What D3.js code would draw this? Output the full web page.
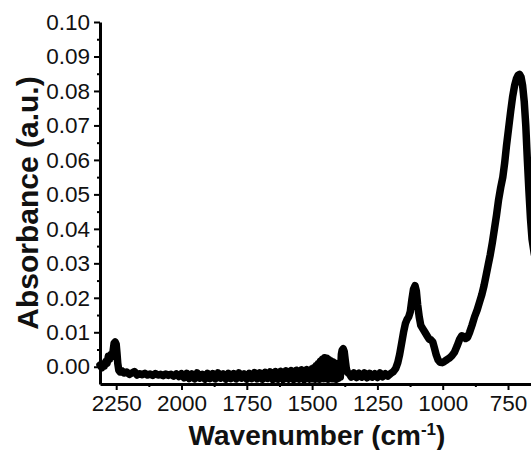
<!DOCTYPE html>
<html>
<head>
<meta charset="utf-8">
<script src="https://cdn.jsdelivr.net/npm/d3@7/dist/d3.min.js"></script>
<style>
  html, body { margin: 0; padding: 0; background: #fff; }
  svg { display: block; }
  .tick text { font-family: "Liberation Sans", Arial, sans-serif; }
</style>
</head>
<body>
<svg id="chart" width="531" height="450"></svg>
<script>
// FTIR spectrum: wavenumber (cm-1) and absorbance (a.u.)
const wavenumber = [
  2312, 2305, 2300, 2295, 2290, 2285, 2280, 2275, 2270, 2265, 2262, 2258, 2254, 2250, 2247, 2244, 2240, 2235,
  2228, 2220, 2210, 2200, 2190, 2180, 2170, 2160, 2150, 2140, 2130, 2120, 2110, 2100, 2090, 2080, 2070, 2060,
  2050, 2040, 2030, 2020, 2010,
  2000, 1990, 1980, 1970, 1960, 1950, 1940, 1930, 1920, 1910, 1900, 1890, 1880, 1870, 1860, 1850, 1840, 1830,
  1820, 1810, 1800, 1790, 1780, 1770, 1760, 1750, 1740, 1730, 1720, 1710, 1700, 1690, 1680, 1670, 1660, 1650,
  1640, 1630, 1620, 1610, 1600, 1590, 1580, 1570, 1560, 1550, 1540, 1530, 1520, 1510, 1500,
  1496, 1492, 1488, 1484, 1480, 1476, 1472, 1468, 1464, 1460, 1456, 1452, 1448, 1444, 1440, 1436, 1432, 1428,
  1424, 1420, 1416, 1412, 1408, 1404, 1400, 1396, 1392, 1388, 1385, 1381, 1377, 1373, 1369, 1365, 1358,
  1350, 1340, 1330, 1320, 1310, 1300, 1290, 1280, 1270, 1260, 1250, 1240, 1230, 1220, 1210,
  1200, 1190, 1180, 1172, 1165, 1158, 1150, 1143, 1136, 1130, 1124, 1118, 1112, 1106, 1101, 1096, 1090, 1084,
  1076, 1068, 1060, 1052, 1045, 1038, 1032, 1025, 1018, 1010, 1002, 994, 985, 975, 965, 955, 945, 935,
  927, 920, 912, 905, 897, 888, 878, 868, 858, 850, 842, 834, 826, 818, 810, 802, 794, 786,
  778, 770, 763, 756, 748, 740, 732, 725, 718, 712, 706, 700, 694, 688, 682, 676, 670, 664, 658, 650, 640
];
const absorbance = [
  0.0005, -0.0003, 0.0008, 0.0002, 0.0015, 0.0010, 0.0030, 0.0022, 0.0035, 0.0030, 0.0045, 0.0068, 0.0072, 0.0065, 0.0040, 0.0010, -0.0010, -0.0015,
  -0.0012, -0.0018, -0.0015, -0.0022, -0.0018, -0.0014, -0.0024, -0.0020, -0.0023, -0.0019, -0.0024, -0.0021, -0.0025, -0.0020, -0.0024, -0.0022, -0.0026, -0.0021,
  -0.0025, -0.0022, -0.0027, -0.0021, -0.0028,
  -0.0020, -0.0032, -0.0019, -0.0034, -0.0021, -0.0035, -0.0018, -0.0033, -0.0022, -0.0036, -0.0019, -0.0034, -0.0020, -0.0035, -0.0018, -0.0033, -0.0021, -0.0036,
  -0.0019, -0.0034, -0.0020, -0.0035, -0.0018, -0.0033, -0.0021, -0.0036, -0.0019, -0.0034, -0.0017, -0.0035, -0.0018, -0.0036, -0.0016, -0.0034, -0.0015, -0.0037,
  -0.0014, -0.0036, -0.0013, -0.0037, -0.0012, -0.0036, -0.0011, -0.0037, -0.0010, -0.0036, -0.0009, -0.0037, -0.0008, -0.0036, -0.0006,
  -0.0035, -0.0003, -0.0036, 0.0003, -0.0034, 0.0009, -0.0036, 0.0016, -0.0033, 0.0022, -0.0035, 0.0026, -0.0034, 0.0025, -0.0036, 0.0020, -0.0033, 0.0017,
  -0.0035, 0.0014, -0.0034, 0.0010, -0.0036, 0.0007, -0.0033, 0.0010, -0.0030, 0.0036, 0.0048, 0.0052, 0.0044, 0.0018, -0.0005, -0.0016, -0.0020,
  -0.0030, -0.0018, -0.0031, -0.0019, -0.0030, -0.0018, -0.0032, -0.0019, -0.0030, -0.0020, -0.0031, -0.0018, -0.0029, -0.0020, -0.0027,
  -0.0020, -0.0015, -0.0005, 0.0012, 0.0035, 0.0065, 0.0100, 0.0125, 0.0138, 0.0145, 0.0160, 0.0195, 0.0225, 0.0235, 0.0220, 0.0180, 0.0145, 0.0120,
  0.0110, 0.0100, 0.0090, 0.0080, 0.0078, 0.0072, 0.0055, 0.0035, 0.0020, 0.0013, 0.0012, 0.0015, 0.0020, 0.0025, 0.0032, 0.0042, 0.0060, 0.0080,
  0.0090, 0.0088, 0.0082, 0.0085, 0.0100, 0.0120, 0.0145, 0.0165, 0.0190, 0.0210, 0.0235, 0.0265, 0.0295, 0.0325, 0.0360, 0.0400, 0.0440, 0.0485,
  0.0520, 0.0550, 0.0590, 0.0640, 0.0690, 0.0740, 0.0785, 0.0815, 0.0835, 0.0845, 0.0848, 0.0840, 0.0815, 0.0770, 0.0700, 0.0600, 0.0510, 0.0430, 0.0370, 0.0330, 0.0290
];

// Axis tick values
const xMajorTicks = [2250, 2000, 1750, 1500, 1250, 1000, 750];
const xMinorTicks = [2125, 1875, 1625, 1375, 1125, 875, 625];
const yMajorTicks = [0.00, 0.01, 0.02, 0.03, 0.04, 0.05, 0.06, 0.07, 0.08, 0.09, 0.10];
const yMinorTicks = [0.005, 0.015, 0.025, 0.035, 0.045, 0.055, 0.065, 0.075, 0.085, 0.095];

const svg = d3.select("#chart");
const plotLeft = 100, plotTop = 22, plotBottom = 384;

const x = d3.scaleLinear().domain([2312, 600]).range([plotLeft, 547.2]);
const y = d3.scaleLinear().domain([-0.005, 0.10]).range([plotBottom, plotTop]);

const points = wavenumber.map((w, i) => [w, absorbance[i]]);

// Spectrum trace
svg.append("path")
  .datum(points)
  .attr("fill", "none")
  .attr("stroke", "#000")
  .attr("stroke-width", 7.5)
  .attr("stroke-linejoin", "round")
  .attr("stroke-linecap", "round")
  .attr("d", d3.line().x(d => x(d[0])).y(d => y(d[1])));

const tickFont = 22.5;

// X axis
svg.append("g").attr("transform", `translate(0,${plotBottom})`)
  .call(d3.axisBottom(x).tickValues(xMajorTicks).tickSize(6).tickSizeOuter(0).tickPadding(5).tickFormat(d3.format("d")));
svg.append("g").attr("transform", `translate(0,${plotBottom})`)
  .call(d3.axisBottom(x).tickValues(xMinorTicks).tickSize(3).tickSizeOuter(0).tickFormat(""))
  .select(".domain").remove();

// Y axis
svg.append("g").attr("transform", `translate(${plotLeft},0)`)
  .call(d3.axisLeft(y).tickValues(yMajorTicks).tickSize(6).tickSizeOuter(0).tickPadding(4).tickFormat(d3.format(".2f")));
svg.append("g").attr("transform", `translate(${plotLeft},0)`)
  .call(d3.axisLeft(y).tickValues(yMinorTicks).tickSize(3).tickSizeOuter(0).tickFormat(""))
  .select(".domain").remove();

svg.selectAll(".domain").attr("stroke", "#000").attr("stroke-width", 3);
svg.selectAll(".tick line").attr("stroke", "#000").attr("stroke-width", 2);
svg.selectAll(".tick text").attr("font-size", tickFont).attr("fill", "#111");

// Axis titles
svg.append("text")
  .attr("x", 317).attr("y", 445)
  .attr("text-anchor", "middle")
  .attr("font-family", "Liberation Sans, Arial, sans-serif")
  .attr("font-weight", "bold")
  .attr("font-size", 28)
  .attr("fill", "#111")
  .call(t => {
    t.append("tspan").text("Wavenumber (cm");
    t.append("tspan").attr("font-size", 17).attr("dy", -10).text("-1");
    t.append("tspan").attr("dy", 10).text(")");
  });

svg.append("text")
  .attr("transform", `translate(38,203) rotate(-90)`)
  .attr("text-anchor", "middle")
  .attr("font-family", "Liberation Sans, Arial, sans-serif")
  .attr("font-weight", "bold")
  .attr("font-size", 30)
  .attr("fill", "#111")
  .text("Absorbance (a.u.)");
</script>
</body>
</html>
